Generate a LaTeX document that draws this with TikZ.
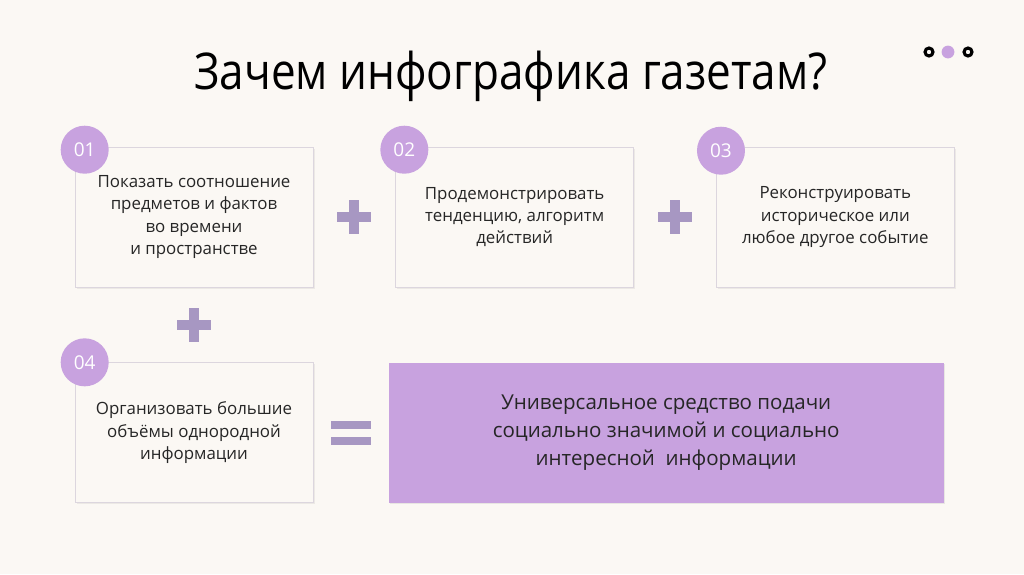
\documentclass[tikz,border=0pt]{standalone}
\usepackage{fontspec}
\setmainfont{Open Sans}
\newfontfamily\titlefont[FakeStretch=0.87]{Open Sans}
\usepackage{xcolor}
\usetikzlibrary{positioning, shadows, calc}

\definecolor{bgcream}{HTML}{FBF8F4}
\definecolor{lilac}{HTML}{C8A2DF}
\definecolor{plusgray}{HTML}{A797C2}
\definecolor{edgegray}{HTML}{DCD6DE}
\definecolor{inkdark}{HTML}{262626}

\begin{document}
\begin{tikzpicture}[
    x=0.025cm, y=-0.025cm,
    node distance=1.875cm and 2.05cm,
    card/.style={rectangle, draw=edgegray, fill=bgcream, minimum width=5.95cm, minimum height=3.5cm, align=center, text=inkdark, font=\fontsize{12}{15.8}\selectfont, drop shadow={shadow xshift=0.04cm, shadow yshift=-0.04cm, opacity=0.12}},
    badge/.style={circle, fill=lilac, minimum size=1.2cm, inner sep=0pt, text=white, font=\fontsize{13.5}{14}\selectfont},
    result/.style={rectangle, fill=lilac, minimum width=13.875cm, minimum height=3.5cm, align=center, text=inkdark, font=\fontsize{14.6}{20}\selectfont, drop shadow={shadow xshift=0.04cm, shadow yshift=-0.04cm, opacity=0.15}},
    ring/.style={circle, draw=black, line width=2.2pt, minimum size=0.2cm, inner sep=0pt},
    sign/.style={fill=plusgray}
]
    \useasboundingbox[fill=bgcream] (0,0) rectangle (1024,574);

    % Title and dots
    \node (title) [text=black, font=\titlefont\fontsize{36}{42}\selectfont] at (511,76) {Зачем инфографика газетам?};
    \node (dotl) [ring] at (929,52) {};
    \node (dotm) [circle, fill=lilac, minimum size=0.32cm, inner sep=0pt] at (948,52) {};
    \node (dotr) [ring] at (968,52) {};

    % Row 1: three cards
    \node (card1) [card] at (194,217) {Показать соотношение\\предметов и фактов\\во времени\\и пространстве};
    \node (card2) [card, right=of card1] {Продемонстрировать\\тенденцию, алгоритм\\действий};
    \node (card3) [card, right=of card2] {Реконструировать\\историческое или\\любое другое событие};

    % Row 2: fourth card and result
    \node (card4) [card, below=of card1] {Организовать большие\\объёмы однородной\\информации};
    \node (total) [result, right=1.875cm of card4] {Универсальное средство подачи\\социально значимой и социально\\интересной\ \ информации};

    % Number badges
    \node (num1) [badge, xshift=0.25cm, yshift=-0.075cm] at (card1.north west) {01};
    \node (num2) [badge, xshift=0.225cm, yshift=-0.075cm] at (card2.north west) {02};
    \node (num3) [badge, xshift=0.125cm, yshift=-0.1cm] at (card3.north west) {03};
    \node (num4) [badge, xshift=0.25cm, yshift=0cm] at (card4.north west) {04};

    % Plus and equal signs
    \coordinate (p12) at ($(card1.east)!0.5!(card2.west)$);
    \coordinate (p23) at ($(card2.east)!0.5!(card3.west)$);
    \coordinate (p14) at ($(card1.south)!0.5!(card4.north)$);
    \coordinate (eq) at ($(card4.east)!0.5!(total.west)$);
    \foreach \p in {p12, p23, p14} {
        \fill[sign] ($(\p)+(-17,-5)$) rectangle ($(\p)+(17,5)$);
        \fill[sign] ($(\p)+(-5,-17)$) rectangle ($(\p)+(5,17)$);
    }
    \fill[sign] ($(eq)+(-20,-12)$) rectangle ($(eq)+(20,-4)$);
    \fill[sign] ($(eq)+(-20,4)$) rectangle ($(eq)+(20,12)$);

\end{tikzpicture}
\end{document}
